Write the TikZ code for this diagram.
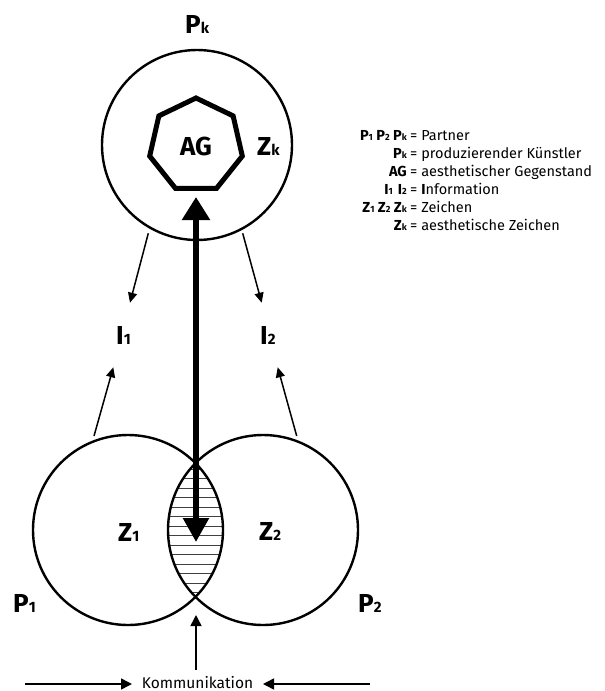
\documentclass[tikz,border=0pt]{standalone}
\usepackage{fontspec}
\setmainfont{Fira Sans}
\usetikzlibrary{arrows.meta}
\newcommand\mysub[1]{{\fontsize{15}{15}\selectfont #1}}
\newcommand\lsub[1]{{\fontsize{9}{9}\selectfont #1}}
\begin{document}
\begin{tikzpicture}[x=1pt,y=-1pt,
  ring/.style={circle, draw, line width=2.4pt, minimum size=190pt, inner sep=0pt},
  thinarrow/.style={line width=1.5pt, -{Triangle[length=10pt,width=9pt]}},
  bigarrow/.style={line width=5.5pt, {Triangle[length=23pt,width=27pt]}-{Triangle[length=24pt,width=25pt]}},
  hept/.style={line width=5pt, line join=miter},
  hatch/.style={line width=0.7pt, black!75},
  biglabel/.style={anchor=base west, inner sep=0pt, font=\fontsize{26}{26}\selectfont\bfseries},
  legl/.style={anchor=base east, inner sep=0pt, font=\fontsize{14.5}{14.5}\selectfont\bfseries},
  legr/.style={anchor=base west, inner sep=0pt, font=\fontsize{14.5}{14.5}\selectfont}
]
\useasboundingbox (0,0) rectangle (605,691);

% hatching in the lens
\begin{scope}
  \clip (128,530) circle[radius=95];
  \clip (263,530) circle[radius=95];
  \foreach \yy in {469,478.5,...,597} \draw[hatch] (150,\yy) -- (240,\yy);
\end{scope}

% circles
\node[ring] (top) at (197,145) {};
\node[ring] (left) at (128,530) {};
\node[ring] (right) at (263,530) {};

% heptagon
\draw[hept, shift={(196,145.5)}] (-90:47.5)
  \foreach \k in {1,...,6}{ -- ({-90+\k*360/7}:47.5)} -- cycle;

% labels
\node[biglabel] (pk) at (185,33) {P\mysub{k}};
\node[biglabel, anchor=base] (ag) at (196,155) {AG};
\node[biglabel] (zk) at (257,155) {Z\mysub{k}};
\node[biglabel] (i1) at (116,344) {I\mysub{1}};
\node[biglabel] (i2) at (260,344) {I\mysub{2}};
\node[biglabel] (z1) at (118,541) {Z\mysub{1}};
\node[biglabel] (z2) at (259,540) {Z\mysub{2}};
\node[biglabel] (p1) at (13,612) {P\mysub{1}};
\node[biglabel] (p2) at (358,612) {P\mysub{2}};

% thin arrows
\coordinate (a1s) at (148.3,233.3); \coordinate (a1e) at (130,302.7);
\coordinate (a2s) at (242.7,233.3); \coordinate (a2e) at (261.7,302.7);
\coordinate (b1s) at (94,436);      \coordinate (b1e) at (113.3,367.3);
\coordinate (b2s) at (296.7,436);   \coordinate (b2e) at (277.7,367.3);
\draw[thinarrow] (a1s) -- (a1e);
\draw[thinarrow] (a2s) -- (a2e);
\draw[thinarrow] (b1s) -- (b1e);
\draw[thinarrow] (b2s) -- (b2e);

% big arrow
\coordinate (bigtop) at (196,197);
\coordinate (bigbot) at (196,542);
\draw[bigarrow] (bigtop) -- (bigbot);

% Kommunikation
\node[inner sep=0pt, anchor=base, font=\fontsize{15.5}{15.5}\selectfont] (komm) at (197.5,688) {Kommunikation};
\coordinate (kl) at (25,684); \coordinate (kltip) at (132,684);
\coordinate (kr) at (370,684); \coordinate (krtip) at (263,684);
\coordinate (kup) at (196,670); \coordinate (kuptip) at (196,615);
\draw[line width=1.5pt, -{Triangle[length=11pt,width=11pt]}] (kl) -- (kltip);
\draw[line width=1.5pt, -{Triangle[length=11pt,width=11pt]}] (kr) -- (krtip);
\draw[line width=1.5pt, -{Triangle[length=11pt,width=11pt]}] (kup) -- (kuptip);

% legend
\node[legl] (l1) at (407,140) {P\lsub{1} P\lsub{2} P\lsub{k}};
\node[legr] (r1) at (410,140) {= Partner};
\node[legl] (l2) at (407,158) {P\lsub{k}};
\node[legr] (r2) at (410,158) {= produzierender Künstler};
\node[legl] (l3) at (407,176) {AG};
\node[legr] (r3) at (410,176) {= aesthetischer Gegenstand};
\node[legl] (l4) at (407,194) {I\lsub{1}\hspace{5pt}I\lsub{2}};
\node[legr] (r4) at (410,194) {= \textbf{I}nformation};
\node[legl] (l5) at (407,212) {Z\lsub{1} Z\lsub{2} Z\lsub{k}};
\node[legr] (r5) at (410,212) {= Zeichen};
\node[legl] (l6) at (407,230) {Z\lsub{k}};
\node[legr] (r6) at (410,230) {= aesthetische Zeichen};
\end{tikzpicture}
\end{document}
